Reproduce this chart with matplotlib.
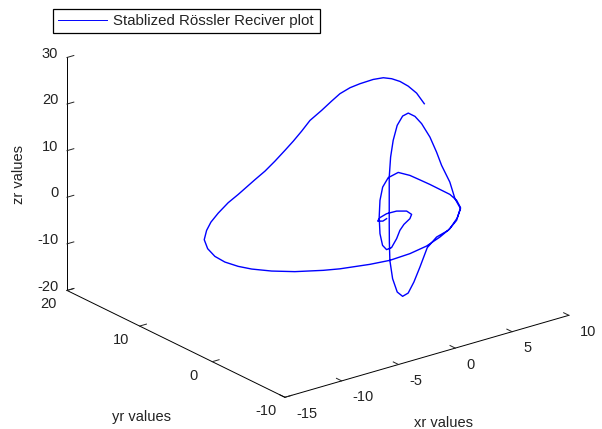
import matplotlib
matplotlib.use('Agg')
import matplotlib.pyplot as plt
from matplotlib.transforms import offset_copy

plt.rcParams['font.family'] = ['Liberation Sans', 'DejaVu Sans']
plt.rcParams['axes.unicode_minus'] = False

xr = [9.05,8.77,8.04,7.59,6.91,6.03,4.75,3.53,2.53,1.82,1.05,-0.03,-0.75,-1.89,-2.96,-3.95,-4.66,-5.81,-6.29,-7.82,
      -8.79,-9.46,-10.36,-11.01,-12.19,-12.49,-12.96,-12.52,-12.27,-11.30,-10.42,-9.20,-7.48,-6.39,-4.22,-2.66,-0.79,0.47,2.22,3.20,
      4.27,4.99,4.76,4.77,4.62,4.79,4.54,3.49,2.89,1.84,1.19,0.89,0.55,0.10,-0.13,-0.13,-0.13,-0.13,-0.03,0.16,
      -0.04,0.30,0.45,0.96,1.41,1.90,2.56,3.44,4.50,5.63,6.24,6.54,6.55,6.56,6.52,6.47,6.16,5.01,3.64,1.99,
      0.06,-1.77,-2.95,-3.21,-2.71,-1.41,-0.29,0.61,1.58,2.16,2.26,1.70,0.86,0.03,-0.48,-0.19,0.29]
yr = [8.42,9.04,9.05,9.48,9.56,9.34,8.73,8.65,8.45,8.73,8.67,8.36,8.83,8.19,7.67,7.28,7.54,7.11,7.75,7.65,
      7.52,7.84,7.44,7.02,5.50,4.56,2.83,2.14,0.70,0.36,-1.01,-2.30,-3.52,-4.10,-4.84,-5.15,-4.99,-5.32,-4.41,-4.26,
      -3.58,-2.92,-2.51,-1.79,-0.89,0.07,0.59,0.09,0.07,-0.65,-0.89,-0.61,-0.59,-0.94,-1.11,-1.11,-1.11,-1.13,-1.04,-1.12,
      -2.07,-2.28,-2.81,-2.80,-2.93,-3.17,-3.42,-3.65,-3.14,-1.92,-0.43,0.97,2.37,3.76,5.06,6.37,7.49,7.07,5.69,3.48,
      0.57,-2.40,-4.60,-5.56,-5.46,-4.13,-2.83,-1.98,-1.28,-0.61,0.23,0.74,0.79,0.43,-0.06,-0.33,-0.09]
zr = [12,14,16,17,18,19,20,20,20,19,18,17,15,14,13,12,10,9,7,5,
      4,2,1,0,0,-1,-1,-2,-2,-3,-3,-3,-3,-3,-3,-3,-3,-2,-2,-1,
      0,1,3,6,9,11,14,18,20,22,22,20,17,14,10,5,0,-4,-8,-12,
      -14,-15,-14,-12,-9,-5,-3,-2,-1,0,0,0,0,0,0,0,0,0,0,0,
      0,0,0,0,0,0,0,0,0,0,0,0,0,0,0,0,0]
x_ticks = [-15, -10, -5, 0, 5, 10]
y_ticks = [-10, 0, 10, 20]
z_ticks = [-20, -10, 0, 10, 20, 30]


def shift_labels(labels, dx, dy, ha='center', va='center'):
    # nudge tick labels by pixels, mplot3d resets the transform on every draw so block that
    for t in labels:
        t.set_ha(ha)
        t.set_va(va)
        t.set_transform(offset_copy(ax.transData, fig=fig, x=dx, y=dy, units='dots'))
        t.set_transform = lambda tr: None


fig = plt.figure(figsize=(6.02, 4.29), dpi=100)
ax = fig.add_axes([0.0185, 0.052, 1, 1], projection='3d', proj_type='ortho')
ax.view_init(elev=22.1, azim=-127.5)
ax.set_box_aspect((1, 1, 0.7025), zoom=1.279)
line, = ax.plot(xr, yr, zr, color='#0000ff', lw=1, label='Stablized Rössler Reciver plot')
ax.set_xlim(-15, 10)
ax.set_ylim(-10, 20)
ax.set_zlim(-20, 30)
ax.set_xticks(x_ticks)
ax.set_yticks(y_ticks)
ax.set_zticks(z_ticks)
ax.grid(False)
for axis in (ax.xaxis, ax.yaxis, ax.zaxis):
    axis.pane.set_visible(False)
    axis.line.set_color('k')
    axis.line.set_linewidth(0.7)
    axis._axinfo['tick']['inward_factor'] = 0.0
    axis._axinfo['tick']['outward_factor'] = 0.3
    axis._axinfo['tick']['linewidth'] = {True: 0.7, False: 0.7}
ax.tick_params(labelsize=10.5, colors='#222222')
ax.tick_params(axis='x', pad=0.5)
ax.tick_params(axis='y', pad=-0.6)
ax.tick_params(axis='z', pad=-2)
shift_labels(ax.get_xticklabels(), -0.5, 1.5, ha='left')
shift_labels(ax.get_yticklabels(), -5.5, 0.5)
shift_labels(ax.get_zticklabels(), 10, -4, ha='right', va='bottom')

fig.text(444/602, 1-423/429, 'xr values', ha='center', va='center', fontsize=10.5, color='#222222')
fig.text(141/602, 1-417/429, 'yr values', ha='center', va='center', fontsize=10.5, color='#222222')
fig.text(19/602, 1-174/429, 'zr values', ha='center', va='center', rotation=90, fontsize=10.5, color='#222222')
leg = fig.legend(handles=[line], loc='upper left', bbox_to_anchor=(53/602, 1-35/429, 267/602, 26/429), borderaxespad=0,
                 mode='expand', fancybox=False, edgecolor='k', framealpha=1, fontsize=10.8, handlelength=3.3,
                 handletextpad=0.35, borderpad=0.33, labelcolor='#222222')
leg.get_frame().set_linewidth(0.9)
leg.get_lines()[0].set_linewidth(0.7)

fig.savefig('out.png', dpi=100)
